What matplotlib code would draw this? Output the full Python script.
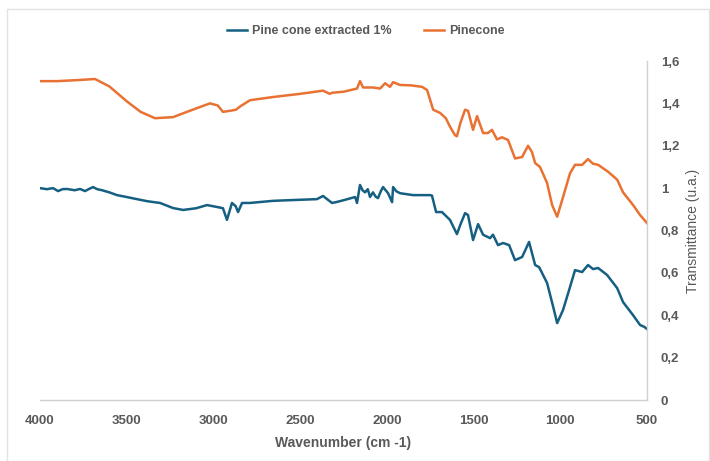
import matplotlib.pyplot as plt
from matplotlib.patches import Rectangle

# * spectra (wavenumber in cm-1, transmittance in u.a.)
wn_pine = [4000, 3900, 3780, 3683, 3600, 3500, 3420, 3337, 3233, 3120, 3020,
           2975, 2945, 2904, 2870, 2847, 2789, 2656, 2500, 2368, 2330, 2316,
           2250, 2172, 2155, 2137, 2080, 2039, 2010, 1982, 1964, 1924, 1860,
           1797, 1768, 1733, 1693, 1660, 1636, 1607, 1596, 1575, 1549, 1532,
           1503, 1480, 1445, 1417, 1394, 1365, 1336, 1301, 1261, 1220, 1186,
           1163, 1145, 1117, 1076, 1047, 1018, 984, 944, 915, 874, 840, 811,
           782, 724, 672, 638, 580, 540, 500]
t_pine = [1.505, 1.505, 1.51, 1.515, 1.48, 1.41, 1.36, 1.33, 1.335, 1.37,
          1.40, 1.39, 1.36, 1.365, 1.37, 1.385, 1.415, 1.43, 1.445, 1.46,
          1.445, 1.45, 1.455, 1.47, 1.505, 1.475, 1.475, 1.47, 1.495, 1.478,
          1.50, 1.487, 1.485, 1.478, 1.463, 1.37, 1.355, 1.33, 1.29, 1.25,
          1.245, 1.31, 1.37, 1.365, 1.275, 1.34, 1.26, 1.26, 1.275, 1.23,
          1.24, 1.227, 1.14, 1.147, 1.20, 1.17, 1.118, 1.10, 1.024, 0.92,
          0.865, 0.958, 1.07, 1.11, 1.11, 1.137, 1.115, 1.11, 1.077, 1.04,
          0.98, 0.92, 0.873, 0.835]

wn_ext = [4000, 3960, 3925, 3896, 3870, 3844, 3800, 3769, 3740, 3720, 3694,
          3670, 3642, 3600, 3556, 3500, 3441, 3380, 3308, 3233, 3175, 3100,
          3037, 2973, 2945, 2922, 2893, 2872, 2858, 2835, 2789, 2656, 2500,
          2403, 2368, 2340, 2316, 2287, 2240, 2183, 2172, 2155, 2140, 2126,
          2110, 2097, 2080, 2065, 2051, 2035, 2022, 1993, 1970, 1964, 1945,
          1924, 1849, 1751, 1740, 1716, 1682, 1636, 1596, 1575, 1549, 1532,
          1503, 1474, 1445, 1405, 1388, 1359, 1330, 1295, 1261, 1220, 1180,
          1145, 1122, 1076, 1041, 1018, 984, 944, 915, 874, 840, 811, 782,
          730, 672, 638, 580, 540, 515, 500]
t_ext = [1.0, 0.995, 1.0, 0.986, 0.995, 0.996, 0.99, 0.996, 0.986, 0.995,
         1.005, 0.995, 0.99, 0.98, 0.967, 0.958, 0.948, 0.938, 0.93, 0.906,
         0.897, 0.905, 0.92, 0.91, 0.905, 0.85, 0.93, 0.915, 0.887, 0.93,
         0.93, 0.94, 0.945, 0.948, 0.963, 0.945, 0.93, 0.935, 0.945, 0.958,
         0.93, 1.015, 0.99, 0.98, 0.995, 0.958, 0.98, 0.96, 0.953, 0.985,
         1.005, 0.976, 0.934, 1.005, 0.985, 0.976, 0.967, 0.967, 0.965,
         0.887, 0.887, 0.85, 0.783, 0.83, 0.882, 0.873, 0.755, 0.83, 0.78,
         0.764, 0.78, 0.731, 0.741, 0.731, 0.66, 0.675, 0.746, 0.637, 0.627,
         0.552, 0.44, 0.363, 0.425, 0.533, 0.613, 0.604, 0.637, 0.618, 0.623,
         0.59, 0.528, 0.462, 0.40, 0.354, 0.345, 0.335]

y_ticks = [0, 0.2, 0.4, 0.6, 0.8, 1.0, 1.2, 1.4, 1.6]
y_tick_labels = ['0', '0,2', '0,4', '0,6', '0,8', '1', '1,2', '1,4', '1,6']
x_ticks = [4000, 3500, 3000, 2500, 2000, 1500, 1000, 500]

# style
plt.rcParams['font.family'] = ['Liberation Sans', 'DejaVu Sans']
c_ext = '#156082'
c_pine = '#E97132'
c_text = '#595959'
c_axis = '#d0d0d0'
lw = 1.8

fig = plt.figure(figsize=(7.1, 4.61), dpi=100)
ax = fig.add_axes([40 / 710, 61 / 461, 607 / 710, 339 / 461])

# outer chart frame
fig.patches.append(Rectangle((7 / 710, 0), 702 / 710, 452 / 461,
                             transform=fig.transFigure, fill=False,
                             edgecolor='#e3e3e3', linewidth=1.0))

ax.plot(wn_ext, t_ext, color=c_ext, linewidth=lw,
        label='Pine cone extracted 1%', zorder=2)
ax.plot(wn_pine, t_pine, color=c_pine, linewidth=lw,
        label='Pinecone', zorder=2)

ax.set_xlim(4000, 500)
ax.set_ylim(0, 1.6)
ax.set_xticks(x_ticks)
ax.set_xticklabels([str(v) for v in x_ticks], fontsize=9.5,
                   fontweight='bold', color=c_text)
ax.yaxis.tick_right()
ax.yaxis.set_label_position('right')
ax.set_yticks(y_ticks)
ax.set_yticklabels(y_tick_labels, fontsize=9.5, fontweight='bold',
                   color=c_text)
ax.tick_params(axis='both', length=0)
ax.tick_params(axis='x', pad=11)
ax.tick_params(axis='y', pad=10)

for side in ['top', 'left']:
    ax.spines[side].set_visible(False)
ax.spines['bottom'].set_color(c_axis)
ax.spines['right'].set_color(c_axis)
ax.spines['bottom'].set_linewidth(1.0)
ax.spines['right'].set_linewidth(1.0)

ax.set_xlabel('Wavenumber (cm -1)', fontsize=10, fontweight='bold',
              color=c_text, labelpad=6)
ax.set_ylabel('Transmittance (u.a.)', fontsize=10, color=c_text,
              labelpad=5)

fig.legend(loc='center', bbox_to_anchor=(366 / 710, 1 - 31 / 461), ncol=2,
           frameon=False, handlelength=1.6, handletextpad=0.4,
           columnspacing=2.6, prop={'weight': 'bold', 'size': 9})
for txt in fig.legends[0].get_texts():
    txt.set_color(c_text)

plt.savefig('out.png', dpi=100)
